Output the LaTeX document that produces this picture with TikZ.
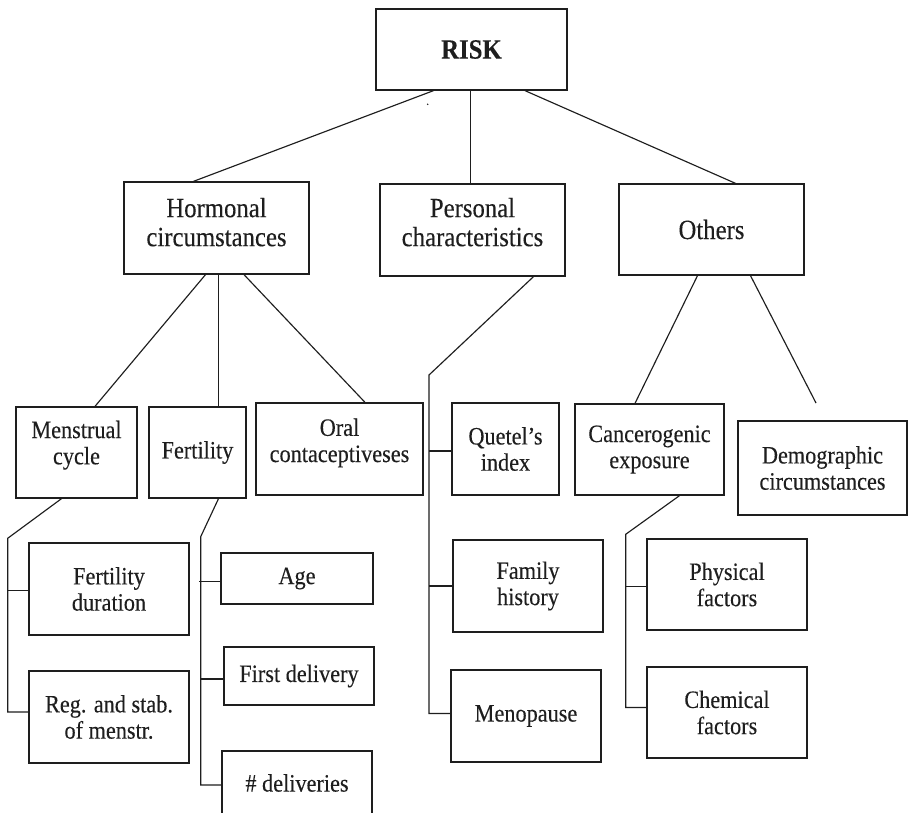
\documentclass[tikz,border=0pt]{standalone}
\usepackage{fontspec}
\setmainfont[FakeStretch=0.89,FakeBold=0.2]{Liberation Serif}
\definecolor{ink}{RGB}{30,30,30}
\newcommand\topsize{\fontsize{27.8pt}{29pt}\selectfont}
\newcommand\lowsize{\fontsize{25pt}{26.2pt}\selectfont}
\begin{document}
\begin{tikzpicture}[x=1pt,y=-1pt,
  box/.style={draw=ink, text=ink, line width=1.3pt, inner sep=0pt, align=center, font=\lowsize},
  topbox/.style={box, font=\topsize},
  link/.style={draw=ink, line width=1.15pt}]
\useasboundingbox (0,0) rectangle (908,813);
\fill[white] (0,0) rectangle (908,813);
\clip (0,0) rectangle (908,813);

% root and first level
\node[topbox, font=\topsize\bfseries, minimum width=191pt, minimum height=81pt] (risk) at (471.5,49.5) {RISK};
\node[topbox, minimum width=185pt, minimum height=92pt, text depth=12pt] (horm) at (216.5,228) {Hormonal\\circumstances};
\node[topbox, minimum width=185pt, minimum height=92pt, text depth=16pt] (pers) at (472.5,230) {Personal\\characteristics};
\node[topbox, minimum width=185pt, minimum height=91pt] (oth) at (711.5,229.5) {Others};

% second level
\node[box, minimum width=121pt, minimum height=91pt, text depth=20pt] (mens) at (76.5,452.5) {Menstrual\\cycle};
\node[box, minimum width=97pt, minimum height=91pt] (fert) at (197.5,452.5) {Fertility};
\node[box, minimum width=167pt, minimum height=92pt, text depth=17.5pt] (oral) at (339.5,449) {Oral\\contaceptiveses};
\node[box, minimum width=107pt, minimum height=92pt] (quet) at (505.5,449) {Quetel’s\\index};
\node[box, minimum width=149pt, minimum height=91pt] (canc) at (649.5,449.5) {Cancerogenic\\exposure};
\node[box, minimum width=169pt, minimum height=94pt] (demo) at (822.5,468) {Demographic\\circumstances};

% third level
\node[box, minimum width=160pt, minimum height=92pt] (fdur) at (109,589) {Fertility\\duration};
\node[box, minimum width=160pt, minimum height=92pt] (reg) at (109,717) {Reg. and stab.\\of menstr.};
\node[box, minimum width=152pt, minimum height=51pt] (age) at (297,578.5) {Age};
\node[box, minimum width=150pt, minimum height=58pt] (first) at (299,676) {First delivery};
\node[box, minimum width=150pt, minimum height=64pt] (ndel) at (297,783) {\# deliveries};
\node[box, minimum width=150pt, minimum height=92pt] (fam) at (528,586) {Family\\history};
\node[box, minimum width=150pt, minimum height=92pt] (meno) at (526,716) {Menopause};
\node[box, minimum width=160pt, minimum height=91pt] (phys) at (727,584.5) {Physical\\factors};
\node[box, minimum width=160pt, minimum height=91pt] (chem) at (727,712.5) {Chemical\\factors};

% stray dot below the root
\fill[ink] (427.7,104.3) circle (0.8pt);

% root to first level
\draw[link] ([xshift=-38]risk.south) -- ([xshift=-23]horm.north);
\draw[link] ([xshift=-0.8]risk.south) -- ([xshift=-0.8]risk.south |- pers.north);
\draw[link] ([xshift=53.5]risk.south) -- ([xshift=24]oth.north);

% hormonal branch
\draw[link] ([xshift=-11]horm.south) -- ([xshift=18.5]mens.north);
\draw[link] ([xshift=2.2]horm.south) -- ([xshift=2.2]horm.south |- fert.north);
\draw[link] ([xshift=27.5]horm.south) -- ([xshift=25.5]oral.north);

% others branch
\coordinate (dend) at (816,403);
\draw[link] ([xshift=-14]oth.south) -- ([xshift=-14.5]canc.north);
\draw[link] ([xshift=39]oth.south) -- (dend);

% personal characteristics trunk
\coordinate (pb) at (429,375);
\draw[link] ([xshift=61]pers.south) -- (pb) -- ([yshift=2.5]pb |- meno.west) -- ([yshift=2.5]meno.west);
\draw[link] ([yshift=-2]pb |- quet.west) -- ([yshift=-2]quet.west);
\draw[link] (pb |- fam.west) -- (fam.west);

% menstrual cycle trunk
\coordinate (mb) at (7.7,538.3);
\draw[link] ([xshift=-15]mens.south) -- (mb) -- ([yshift=5]mb |- reg.west) -- ([yshift=5]reg.west);
\draw[link] ([yshift=-1.7]mb |- fdur.west) -- ([yshift=-1.7]fdur.west);

% fertility trunk
\coordinate (fb) at (200.7,536.7);
\draw[link] ([xshift=21]fert.south) -- (fb) -- ([yshift=-2]fb |- ndel.west) -- ([yshift=-2]ndel.west);
\draw[link] ([yshift=-3,xshift=-1.4]fb |- age.west) -- ([yshift=-3]age.west);
\draw[link] ([yshift=-3]fb |- first.west) -- ([yshift=-3]first.west);

% cancerogenic exposure trunk
\coordinate (cb) at (625.7,534.3);
\draw[link] ([xshift=30]canc.south) -- (cb) -- ([yshift=5]cb |- chem.west) -- ([yshift=5]chem.west);
\draw[link] ([yshift=-2]cb |- phys.west) -- ([yshift=-2]phys.west);
\end{tikzpicture}
\end{document}
